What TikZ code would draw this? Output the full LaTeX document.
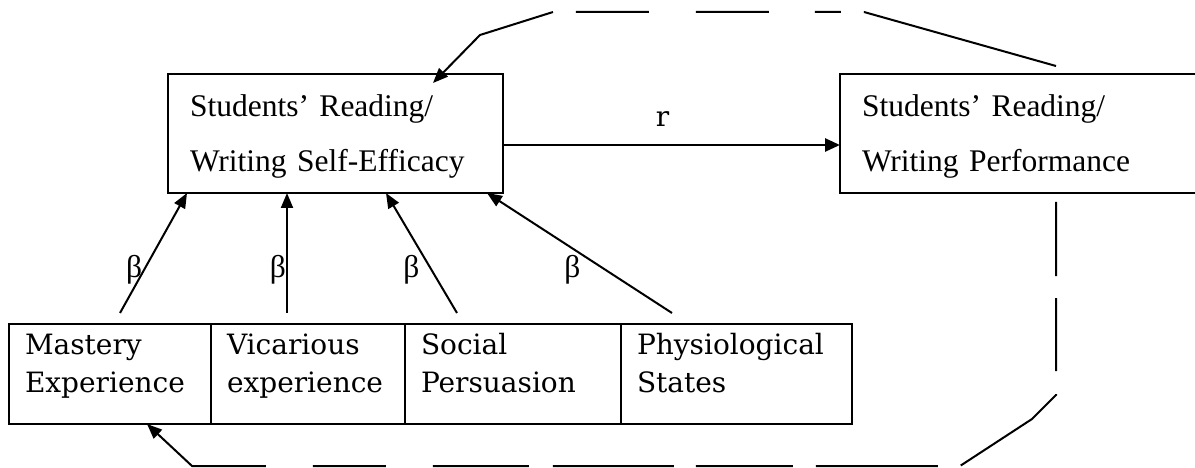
\documentclass[tikz,border=0pt]{standalone}
\usepackage{fontspec}
\usepackage{tikz}
\usetikzlibrary{arrows.meta, positioning, calc}

\newfontfamily\timesfont{Liberation Serif}
\newfontfamily\schoolfont{DejaVu Serif}

\tikzset{
  outcome/.style={draw, line width=2.6pt, outer sep=0pt, anchor=north west,
    inner xsep=22pt, inner ysep=0pt, align=left, text width=#1,
    text height=43pt, text depth=76pt, font=\timesfont\fontsize{31.5}{55}\selectfont},
  source/.style={draw, line width=2.6pt, outer sep=0pt,
    inner xsep=16pt, inner ysep=0pt, align=left, text width=#1,
    text height=30pt, text depth=70pt, font=\schoolfont\fontsize{28}{38}\selectfont},
  link/.style={line width=2pt, -{Triangle[length=15pt, width=12pt]}},
  feedback/.style={line width=2pt, -{Triangle[length=15pt, width=12pt]}},
  beta/.style={font=\timesfont\fontsize{31.5}{38}\selectfont, inner sep=0pt}
}

\begin{document}
\begin{tikzpicture}[x=1pt, y=-1pt]
\useasboundingbox (0,0) rectangle (1195,468);

% Self-efficacy and performance
\node[outcome=291pt] (selfeff) at (168,74) {Students’ Reading/\\Writing Self-Efficacy};
\node[outcome=336pt] (perf) at (840,74) {Students’ Reading/\\Writing Performance};

\draw[link, line width=2.6pt, -{Triangle[length=15pt, width=13pt]}]
    ([yshift=-11.5pt]selfeff.east) -- node[above=17pt, inner sep=0pt, xshift=-9pt,
    font=\schoolfont\fontsize{28}{38}\selectfont] {r} ([yshift=-11.5pt]perf.west);

% Four sources of self-efficacy
\node[source=170pt, anchor=north west] (mastery) at (9,324) {Mastery\\Experience};
\node[source=162pt, right=0pt of mastery] (vicarious) {Vicarious\\experience};
\node[source=184pt, right=0pt of vicarious] (social) {Social\\Persuasion};
\node[source=199pt, right=0pt of social] (physio) {Physiological\\States};

\coordinate (b1) at ([xshift=111pt, yshift=11pt]mastery.north west);
\coordinate (b2) at ([xshift=76pt, yshift=11pt]vicarious.north west);
\coordinate (b3) at ([xshift=52pt, yshift=11pt]social.north west);
\coordinate (b4) at ([xshift=51pt, yshift=11pt]physio.north west);

\draw[link] (b1) -- node[beta, pos=.36, xshift=-10pt] {β} ([xshift=19pt]selfeff.south west);
\draw[link] (b2) -- node[beta, pos=.36, xshift=-9pt] {β} ([xshift=119pt]selfeff.south west);
\draw[link] (b3) -- node[beta, pos=.36, xshift=-20pt] {β} ([xshift=218pt]selfeff.south west);
\draw[link] (b4) -- node[beta, pos=.36, xshift=-33pt] {β} ([xshift=319pt]selfeff.south west);

% Feedback loops
\draw[feedback, dash pattern=on 199.5pt off 23pt on 26pt off 46pt on 73pt off 47pt on 73pt off 23pt on 400pt]
    ([xshift=216pt, yshift=8pt]perf.north west) -- (864,12) -- (553,12) -- (480,35)
    -- ([xshift=265pt, yshift=-9pt]selfeff.north west);
\draw[feedback, dash pattern=on 74pt off 22pt on 73pt off 23pt on 120pt off 23pt on 122pt off 23pt on 97pt off 22pt on 121pt off 24pt on 96pt off 47pt on 73pt off 47pt on 400pt]
    ([xshift=216pt, yshift=-9pt]perf.south west) -- (1056,395) -- (1032,419) -- (960,466)
    -- (192,466) -- ([xshift=138pt]mastery.south west);
\end{tikzpicture}
\end{document}
